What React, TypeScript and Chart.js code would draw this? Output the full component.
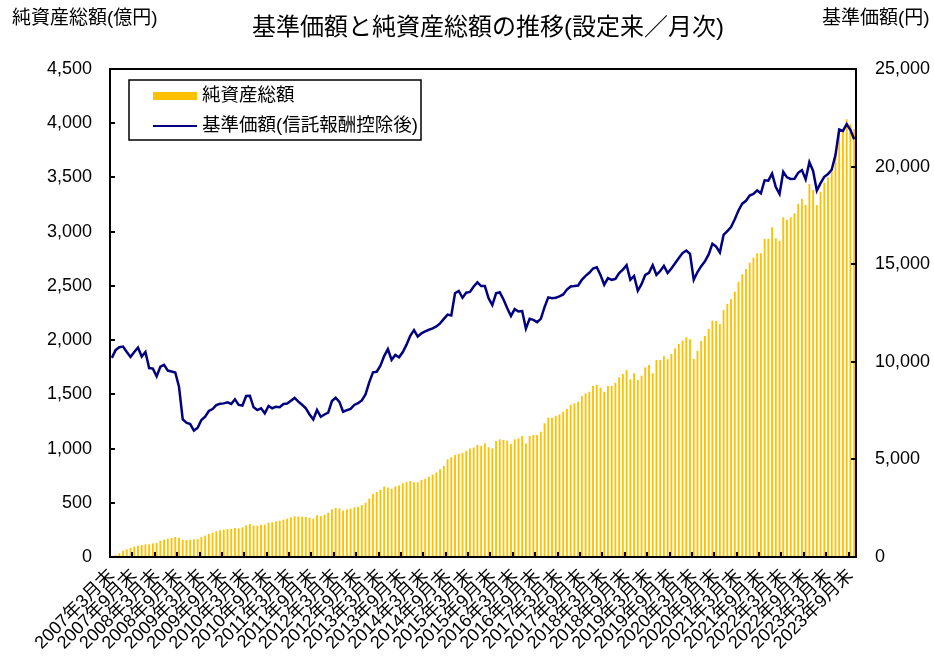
import React, { useEffect, useRef } from "react";
import { Chart, registerables } from "chart.js";

Chart.register(...registerables);

const FONT = '"Liberation Sans", "Noto Sans CJK JP", sans-serif';

// Categories: month-ends from 2007年3月末
const START_YEAR = 2007;
const START_MONTH = 3;
const MONTH_COUNT = 200;
const categories: string[] = [];
for (let k = 0; k < MONTH_COUNT; k++) {
  const m = START_MONTH - 1 + k;
  categories.push(`${START_YEAR + Math.floor(m / 12)}年${(m % 12) + 1}月末`);
}

// 純資産総額 (億円)
const aum2007_2011 = [
  5, 18, 34, 58, 71, 83, 95, 104, 111, 117,
  117, 126, 129, 150, 160, 169, 175, 184, 178, 157,
  157, 160, 163, 166, 184, 197, 212, 224, 237, 246,
  252, 258, 258, 267, 264, 274, 292, 304, 289, 289,
  298, 298, 316, 320, 329, 335, 344, 353, 366, 375,
];
const aum2011_2015 = [
  372, 372, 369, 360, 353, 384, 378, 390, 409, 440,
  452, 449, 427, 440, 446, 458, 464, 480, 500, 540,
  580, 600, 620, 650, 640, 630, 650, 660, 680, 690,
  700, 690, 690, 710, 720, 740, 760, 780, 810, 840,
  900, 920, 940, 950, 960, 980, 1000, 1010, 1033, 1023,
];
const aum2015_2019 = [
  1048, 1011, 1002, 1070, 1085, 1079, 1072, 1042, 1085, 1094,
  1116, 1048, 1116, 1125, 1125, 1155, 1233, 1284, 1284, 1300,
  1315, 1340, 1365, 1401, 1417, 1432, 1484, 1509, 1524, 1577,
  1586, 1561, 1524, 1577, 1577, 1607, 1657, 1687, 1724, 1638,
  1694, 1632, 1672, 1749, 1770, 1694, 1816, 1816, 1853, 1823,
];
const aum2019_2023 = [
  1872, 1924, 1964, 1995, 2026, 2007, 1826, 1902, 1991, 2038,
  2103, 2178, 2175, 2148, 2277, 2333, 2376, 2446, 2538, 2607,
  2656, 2714, 2760, 2800, 2800, 2932, 2932, 3040, 2939, 2917,
  3132, 3107, 3132, 3169, 3255, 3301, 3246, 3439, 3384, 3246,
  3369, 3452, 3501, 3569, 3698, 3944, 3931, 4036, 3990, 3944,
];

// 基準価額(信託報酬控除後) (円)
const nav2007_2011 = [
  10200, 10600, 10750, 10780, 10500, 10250, 10500, 10730, 10270, 10500,
  9680, 9650, 9250, 9750, 9840, 9550, 9500, 9450, 8720, 7050,
  6880, 6810, 6470, 6620, 7020, 7190, 7480, 7580, 7780, 7850,
  7870, 7920, 7840, 8080, 7790, 7760, 8250, 8260, 7670, 7530,
  7620, 7360, 7740, 7620, 7700, 7670, 7840, 7860, 8000, 8150,
];
const nav2011_2015 = [
  7960, 7800, 7620, 7300, 7050, 7530, 7180, 7300, 7400, 7990,
  8160, 7950, 7440, 7520, 7590, 7790, 7880, 8020, 8330, 8950,
  9460, 9490, 9800, 10290, 10650, 10100, 10350, 10230, 10500, 10880,
  11330, 11620, 11290, 11460, 11560, 11640, 11710, 11810, 11970, 12200,
  12420, 12370, 13510, 13630, 13280, 13540, 13580, 13860, 14070, 13880,
];
const nav2015_2019 = [
  13880, 13250, 12900, 13510, 13560, 13190, 12740, 12350, 12700, 12580,
  12600, 11700, 12200, 12150, 12030, 12200, 12800, 13300, 13260, 13280,
  13350, 13450, 13700, 13860, 13880, 13910, 14200, 14400, 14560, 14780,
  14840, 14450, 13950, 14290, 14200, 14250, 14550, 14720, 14950, 14200,
  14400, 13640, 13980, 14450, 14560, 14950, 14450, 14650, 14910, 14550,
];
const nav2019_2023 = [
  14780, 15050, 15320, 15570, 15700, 15530, 14200, 14600, 14900, 15150,
  15500, 16050, 15900, 15600, 16500, 16700, 16900, 17300, 17750, 18100,
  18250, 18520, 18600, 18780, 18630, 19300, 19280, 19640, 18950, 18600,
  19730, 19450, 19370, 19380, 19680, 19820, 19350, 20230, 19780, 18770,
  19150, 19480, 19620, 19850, 20600, 21900, 21830, 22170, 21880, 21400,
];

const aumValues = [...aum2007_2011, ...aum2011_2015, ...aum2015_2019, ...aum2019_2023];
const navValues = [...nav2007_2011, ...nav2011_2015, ...nav2015_2019, ...nav2019_2023];

const LABEL_EVERY = 6;
const leftTicks = [0, 500, 1000, 1500, 2000, 2500, 3000, 3500, 4000, 4500];
const rightTicks = [0, 5000, 10000, 15000, 20000, 25000];

const TITLE = "基準価額と純資産総額の推移(設定来／月次)";
const LEFT_TITLE = "純資産総額(億円)";
const RIGHT_TITLE = "基準価額(円)";
const LEGEND_AUM = "純資産総額";
const LEGEND_NAV = "基準価額(信託報酬控除後)";

const BAR_COLOR = "#FFC000";
const LINE_COLOR = "#000080";

const fmt = (v: number) => v.toLocaleString("en-US");

const decorPlugin = {
  id: "decor",
  afterDatasetsDraw(chart: any) {
    const { ctx, chartArea } = chart;
    const { left, right, top, bottom } = chartArea;
    const y = chart.scales.y;
    const y1 = chart.scales.y1;
    const x = chart.scales.x;
    ctx.save();
    ctx.strokeStyle = "#000";
    ctx.lineWidth = 2;
    ctx.beginPath();
    leftTicks.forEach((v) => {
      const py = Math.round(y.getPixelForValue(v));
      ctx.moveTo(left, py);
      ctx.lineTo(left + 5, py);
    });
    rightTicks.forEach((v) => {
      const py = Math.round(y1.getPixelForValue(v));
      ctx.moveTo(right, py);
      ctx.lineTo(right - 5, py);
    });
    for (let i = LABEL_EVERY; i < categories.length; i += LABEL_EVERY) {
      const px = Math.round((x.getPixelForValue(i) + x.getPixelForValue(i - 1)) / 2);
      ctx.moveTo(px, bottom);
      ctx.lineTo(px, bottom - 5);
    }
    ctx.stroke();
    ctx.strokeRect(left, top, right - left, bottom - top);
    ctx.restore();
  },
  afterDraw(chart: any) {
    const { ctx } = chart;
    ctx.save();
    ctx.fillStyle = "#000";
    ctx.textBaseline = "middle";
    ctx.font = `24px ${FONT}`;
    ctx.textAlign = "center";
    ctx.fillText(TITLE, 488, 28);
    ctx.font = `19px ${FONT}`;
    ctx.textAlign = "left";
    ctx.fillText(LEFT_TITLE, 12, 19);
    ctx.fillText(RIGHT_TITLE, 822, 19);

    // legend
    ctx.fillStyle = "#fff";
    ctx.fillRect(129, 80, 292, 60);
    ctx.strokeStyle = "#000";
    ctx.lineWidth = 1.5;
    ctx.strokeRect(129, 80, 292, 60);
    ctx.fillStyle = BAR_COLOR;
    ctx.fillRect(153, 92, 44, 8);
    ctx.strokeStyle = LINE_COLOR;
    ctx.lineWidth = 2;
    ctx.beginPath();
    ctx.moveTo(153, 126);
    ctx.lineTo(197, 126);
    ctx.stroke();
    ctx.fillStyle = "#000";
    ctx.font = `18.5px ${FONT}`;
    ctx.fillText(LEGEND_AUM, 202, 96);
    ctx.fillText(LEGEND_NAV, 202, 126);
    ctx.restore();
  },
};

export default function App() {
  const canvasRef = useRef<HTMLCanvasElement | null>(null);

  useEffect(() => {
    if (!canvasRef.current) return;
    const chart = new Chart(canvasRef.current, {
      type: "bar",
      data: {
        labels: categories,
        datasets: [
          {
            type: "line",
            label: LEGEND_NAV,
            data: navValues,
            yAxisID: "y1",
            borderColor: LINE_COLOR,
            borderWidth: 2.5,
            pointRadius: 0,
            tension: 0,
            order: 1,
          } as any,
          {
            type: "bar",
            label: LEGEND_AUM,
            data: aumValues,
            yAxisID: "y",
            backgroundColor: BAR_COLOR,
            barPercentage: 0.5,
            categoryPercentage: 1,
            order: 2,
          },
        ],
      },
      options: {
        animation: false,
        responsive: true,
        maintainAspectRatio: false,
        layout: { padding: { top: 69, left: 0, right: 0, bottom: 0 } },
        plugins: { legend: { display: false }, tooltip: { enabled: false }, title: { display: false } },
        scales: {
          x: {
            type: "category",
            offset: true,
            grid: { display: false, drawTicks: false, offset: true },
            border: { display: false },
            ticks: {
              autoSkip: false,
              maxRotation: 45,
              minRotation: 45,
              padding: 8,
              color: "#000",
              font: { family: FONT, size: 18 },
              callback: (_v: any, idx: number) => (idx % LABEL_EVERY === 0 ? categories[idx] : ""),
            },
            afterFit: (s: any) => {
              s.height = 100;
            },
          },
          y: {
            position: "left",
            min: 0,
            max: 4500,
            grid: { display: false, drawTicks: false },
            border: { display: false },
            ticks: {
              stepSize: 500,
              padding: 18,
              color: "#000",
              font: { family: FONT, size: 18 },
              callback: (v: any) => fmt(Number(v)),
            },
            afterFit: (s: any) => {
              s.width = 110;
            },
          },
          y1: {
            position: "right",
            min: 0,
            max: 25000,
            grid: { display: false, drawTicks: false },
            border: { display: false },
            ticks: {
              stepSize: 5000,
              padding: 19,
              color: "#000",
              font: { family: FONT, size: 18 },
              callback: (v: any) => fmt(Number(v)),
            },
            afterFit: (s: any) => {
              s.width = 78;
            },
          },
        },
      },
      plugins: [decorPlugin],
    });
    return () => chart.destroy();
  }, []);

  return (
    <div style={{ position: "absolute", left: 0, top: 0, width: 934, height: 657, background: "#fff" }}>
      <canvas ref={canvasRef} />
    </div>
  );
}
